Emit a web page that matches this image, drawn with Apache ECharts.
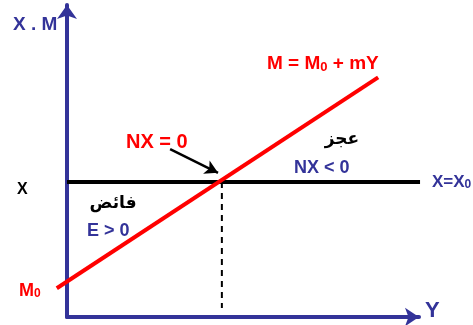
<!DOCTYPE html>
<html>
<head>
<meta charset="utf-8">
<script src="https://cdn.jsdelivr.net/npm/echarts@6/dist/echarts.min.js"></script>
<style>
  html, body { margin: 0; padding: 0; background: #fff; }
  #chart { width: 473px; height: 325px; }
</style>
</head>
<body>
<div id="chart"></div>
<script>
// import line  M = M0 + mY
var importX = [-2.9, 88.4];
var importY = [9.2, 76.8];
// export line  X = X0
var exportLevel = 43.3;
var exportX = [0, 100.3];
// equilibrium NX = 0
var eqX = 44;
var eqY = [43.3, 2.9];
// pointer arrow to the equilibrium
var pointerX = [29.3, 42.9];
var pointerY = [53.8, 46.2];

var blue = '#333399';
var red = '#ff0000';
var font = 'Liberation Sans';

function pairs(xs, ys) {
  return xs.map(function (x, i) { return [x, ys[i]]; });
}

var hidden = {
  axisLine: { show: false },
  axisTick: { show: false },
  axisLabel: { show: false },
  splitLine: { show: false }
};

var chart = echarts.init(document.getElementById('chart'));

var option = {
  animation: false,
  grid: [
    // visible axes
    { left: 67, right: 54, top: 5, bottom: 8 },
    // same scale, a bit wider, for the lines that cross the axes
    { left: 56.44, right: 50.5, top: 5, bottom: 8 }
  ],
  xAxis: [
    {
      type: 'value', gridIndex: 0, min: 0, max: 100,
      axisLine: {
        show: true, onZero: false,
        symbol: ['none', 'arrow'], symbolSize: [14, 14],
        lineStyle: { color: blue, width: 4 }
      },
      axisTick: { show: false }, axisLabel: { show: false }, splitLine: { show: false }
    },
    Object.assign({ type: 'value', gridIndex: 1, min: -3, max: 101 }, hidden)
  ],
  yAxis: [
    {
      type: 'value', gridIndex: 0, min: 0, max: 100,
      axisLine: {
        show: true, onZero: false,
        symbol: ['none', 'arrow'], symbolSize: [15, 14],
        lineStyle: { color: blue, width: 4 }
      },
      axisTick: { show: false }, axisLabel: { show: false }, splitLine: { show: false }
    },
    Object.assign({ type: 'value', gridIndex: 1, min: 0, max: 100 }, hidden)
  ],
  series: [
    {
      type: 'line', xAxisIndex: 1, yAxisIndex: 1,
      symbol: 'none',
      data: pairs(exportX, [exportLevel, exportLevel]),
      lineStyle: { color: '#000', width: 4 },
      z: 3
    },
    {
      type: 'line', xAxisIndex: 1, yAxisIndex: 1,
      symbol: 'none',
      data: pairs([eqX, eqX], eqY),
      lineStyle: { color: '#000', width: 2, type: [6, 5] },
      z: 3
    },
    {
      type: 'line', xAxisIndex: 1, yAxisIndex: 1,
      symbol: 'none',
      data: pairs(importX, importY),
      lineStyle: { color: red, width: 4 },
      z: 4,
      markLine: {
        silent: true,
        symbol: ['none', 'arrow'],
        symbolSize: [11, 13],
        label: { show: false },
        lineStyle: { color: '#000', width: 2.5, type: 'solid' },
        data: [[
          { coord: [pointerX[0], pointerY[0]] },
          { coord: [pointerX[1], pointerY[1]] }
        ]]
      }
    }
  ],
  graphic: [
    { type: 'text', x: 13, y: 25, style: { text: 'X . M', fill: blue, font: 'bold 19px ' + font, textVerticalAlign: 'middle' } },
    { type: 'text', x: 17, y: 190, style: { text: 'X', fill: '#000', font: 'bold 16px ' + font, textVerticalAlign: 'middle' } },
    { type: 'text', x: 19, y: 291, style: {
      text: '{a|M}{s|0}', textVerticalAlign: 'middle',
      rich: { a: { fill: red, font: 'bold 18px ' + font }, s: { fill: red, font: 'bold 12px ' + font, verticalAlign: 'bottom' } }
    } },
    { type: 'text', x: 267, y: 64, style: {
      text: '{a|M = M}{s|0}{a| + mY}', textVerticalAlign: 'middle',
      rich: { a: { fill: red, font: 'bold 19px ' + font }, s: { fill: red, font: 'bold 13px ' + font, verticalAlign: 'bottom' } }
    } },
    { type: 'text', x: 126, y: 142, style: { text: 'NX = 0', fill: red, font: 'bold 20px ' + font, textVerticalAlign: 'middle' } },
    { type: 'text', x: 342, y: 140, style: { text: 'عجز', fill: '#000', font: 'bold 17px DejaVu Sans', textAlign: 'center', textVerticalAlign: 'middle' } },
    { type: 'text', x: 294, y: 168, style: { text: 'NX < 0', fill: blue, font: 'bold 18px ' + font, textVerticalAlign: 'middle' } },
    { type: 'text', x: 432, y: 182, style: {
      text: '{a|X=X}{s|0}', textVerticalAlign: 'middle',
      rich: { a: { fill: blue, font: 'bold 17px ' + font }, s: { fill: blue, font: 'bold 12px ' + font, verticalAlign: 'bottom' } }
    } },
    { type: 'text', x: 113, y: 204, style: { text: 'فائض', fill: '#000', font: 'bold 17px DejaVu Sans', textAlign: 'center', textVerticalAlign: 'middle' } },
    { type: 'text', x: 87, y: 231, style: { text: 'E > 0', fill: blue, font: 'bold 18px ' + font, textVerticalAlign: 'middle' } },
    { type: 'text', x: 425, y: 311, style: { text: 'Y', fill: blue, font: 'bold 22px ' + font, textVerticalAlign: 'middle' } }
  ]
};

chart.setOption(option);
</script>
</body>
</html>
